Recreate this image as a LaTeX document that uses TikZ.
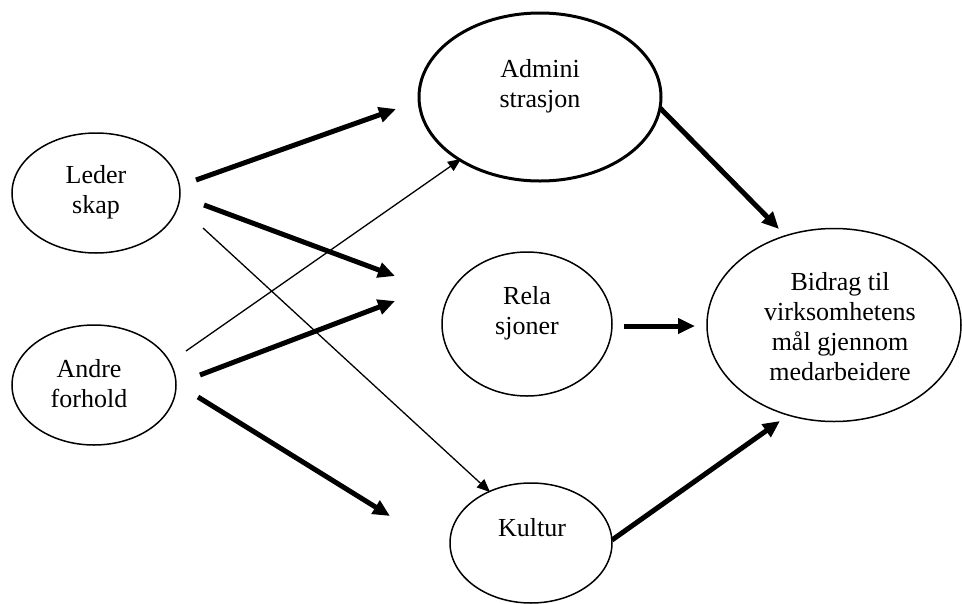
\documentclass[tikz,border=0pt]{standalone}
\usepackage{fontspec}
\setmainfont{Liberation Serif}
\usetikzlibrary{shapes.geometric,arrows.meta}
\begin{document}
\begin{tikzpicture}[x=1pt,y=-1pt,
  oval/.style={draw=black,ellipse,inner sep=0pt,line width=1.5pt},
  lbl/.style={align=center,inner sep=0pt,font=\fontsize{26}{30}\selectfont},
  bigarrow/.style={line width=5pt,-{Triangle[length=17pt,width=15pt]}},
  thinarrow/.style={line width=1.3pt,-{Triangle[length=13pt,width=11pt]}}]
\useasboundingbox (0,0) rectangle (962,603);
% ellipses
\node[oval,minimum width=168pt,minimum height=120pt] (led) at (96,193) {};
\node[oval,minimum width=164pt,minimum height=120pt] (and) at (94,385) {};
\node[oval,line width=3pt,minimum width=242pt,minimum height=168pt] (adm) at (540,97) {};
\node[oval,minimum width=170pt,minimum height=144pt] (rel) at (527,324) {};
\node[oval,minimum width=162pt,minimum height=120pt] (kul) at (531,543) {};
\node[oval,minimum width=254pt,minimum height=193pt] (bid) at (834,325) {};
% texts
\node[lbl] (ledT) at (96,192) {Leder\\skap};
\node[lbl] (andT) at (89,384) {Andre\\forhold};
\node[lbl] (admT) at (540,86) {Admini\\strasjon};
\node[lbl] (relT) at (527,313) {Rela\\sjoner};
\node[lbl] (kulT) at (532,528) {Kultur};
\node[lbl] (bidT) at (840,327) {Bidrag til\\virksomhetens\\mål gjennom\\medarbeidere};
% connector ends
\coordinate (s1) at (196,180); \coordinate (t1) at (396,109);
\coordinate (s2) at (204,205); \coordinate (t2) at (395,276);
\coordinate (s3) at (203,228); \coordinate (t3) at (490,492);
\coordinate (s4) at (186,351); \coordinate (t4) at (461,159);
\coordinate (s5) at (200,375); \coordinate (t5) at (395,301);
\coordinate (s6) at (198,397); \coordinate (t6) at (390,516);
\coordinate (s7) at (660,108); \coordinate (t7) at (779,229);
\coordinate (s8) at (624,326); \coordinate (t8) at (695,326);
\coordinate (s9) at (612,540); \coordinate (t9) at (780,421);
% connectors
\draw[bigarrow] (s1) -- (t1);
\draw[bigarrow] (s2) -- (t2);
\draw[thinarrow] (s3) -- (t3);
\draw[thinarrow] (s4) -- (t4);
\draw[bigarrow] (s5) -- (t5);
\draw[bigarrow] (s6) -- (t6);
\draw[bigarrow] (s7) -- (t7);
\draw[bigarrow] (s8) -- (t8);
\draw[bigarrow] (s9) -- (t9);
\end{tikzpicture}
\end{document}
